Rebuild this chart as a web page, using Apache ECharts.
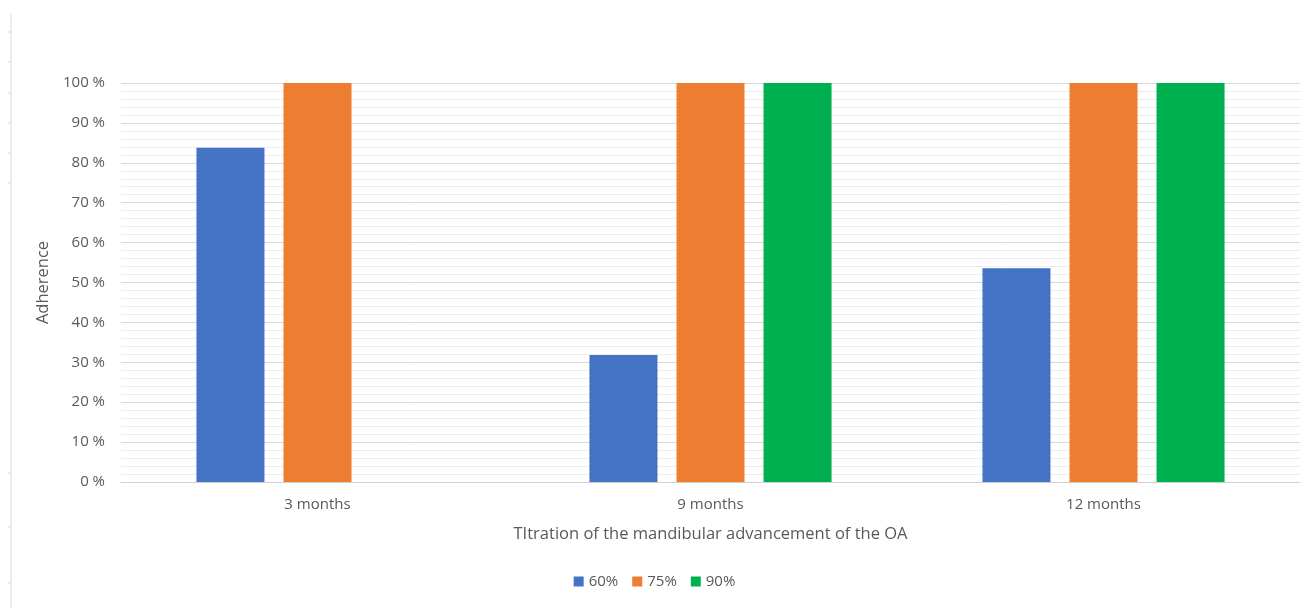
<!DOCTYPE html>
<html>
<head>
<meta charset="utf-8">
<script src="https://cdn.jsdelivr.net/npm/echarts@6/dist/echarts.min.js"></script>
<style>
  html, body { margin: 0; padding: 0; background: #fff; }
  #chart { width: 1309px; height: 608px; }
</style>
</head>
<body>
<div id="chart"></div>
<script>
const categories = ["3 months", "9 months", "12 months"];
const seriesNames = ["60%", "75%", "90%"];
const values60 = [83.8, 31.8, 53.6];
const values75 = [100, 100, 100];
const values90 = [null, 100, 100];
const colors = ["#4472C4", "#ED7D31", "#00B050"];

const chart = echarts.init(document.getElementById("chart"));
const font = "Open Sans";
const textColor = "#595959";

// faint frame line on the left edge of the picture
const frameTicks = [32, 62, 93, 123, 153, 183, 473, 527, 583];
const graphics = [
  { type: "line", shape: { x1: 11, y1: 13, x2: 11, y2: 608 }, style: { stroke: "#D9D9D9", lineWidth: 1 } },
].concat(frameTicks.map((y) => ({
  type: "line", shape: { x1: 8, y1: y, x2: 11, y2: y }, style: { stroke: "#D9D9D9", lineWidth: 1 },
})));

const option = {
  animation: false,
  textStyle: { fontFamily: font },
  graphic: graphics,
  grid: { left: 121, right: 9, top: 83, bottom: 126 },
  legend: {
    data: seriesNames,
    bottom: 14,
    left: "center",
    itemWidth: 10,
    itemHeight: 10,
    itemGap: 14,
    icon: "rect",
    textStyle: { color: textColor, fontSize: 15, fontFamily: font },
  },
  xAxis: {
    type: "category",
    data: categories,
    name: "TItration of the mandibular advancement of the OA",
    nameLocation: "middle",
    nameGap: 44,
    nameTextStyle: { color: textColor, fontSize: 16.5, fontFamily: font },
    axisLine: { lineStyle: { color: "#D0D0D0" } },
    axisTick: { show: false },
    axisLabel: { color: textColor, fontSize: 15, margin: 15 },
  },
  yAxis: {
    type: "value",
    min: 0,
    max: 100,
    interval: 10,
    name: "Adherence",
    nameLocation: "middle",
    nameGap: 68,
    nameTextStyle: { color: textColor, fontSize: 16.5, fontFamily: font },
    axisLabel: { color: textColor, fontSize: 15, margin: 16, formatter: "{value} %" },
    axisLine: { show: false },
    axisTick: { show: false },
    splitLine: { lineStyle: { color: "#D9D9D9" } },
    minorTick: { show: false, splitNumber: 5 },
    minorSplitLine: { show: true, lineStyle: { color: "#EDEDED" } },
  },
  series: [values60, values75, values90].map((data, i) => ({
    name: seriesNames[i],
    type: "bar",
    data: data,
    barWidth: 68,
    barGap: "28%",
    itemStyle: { color: colors[i] },
  })),
};

chart.setOption(option);
</script>
</body>
</html>
